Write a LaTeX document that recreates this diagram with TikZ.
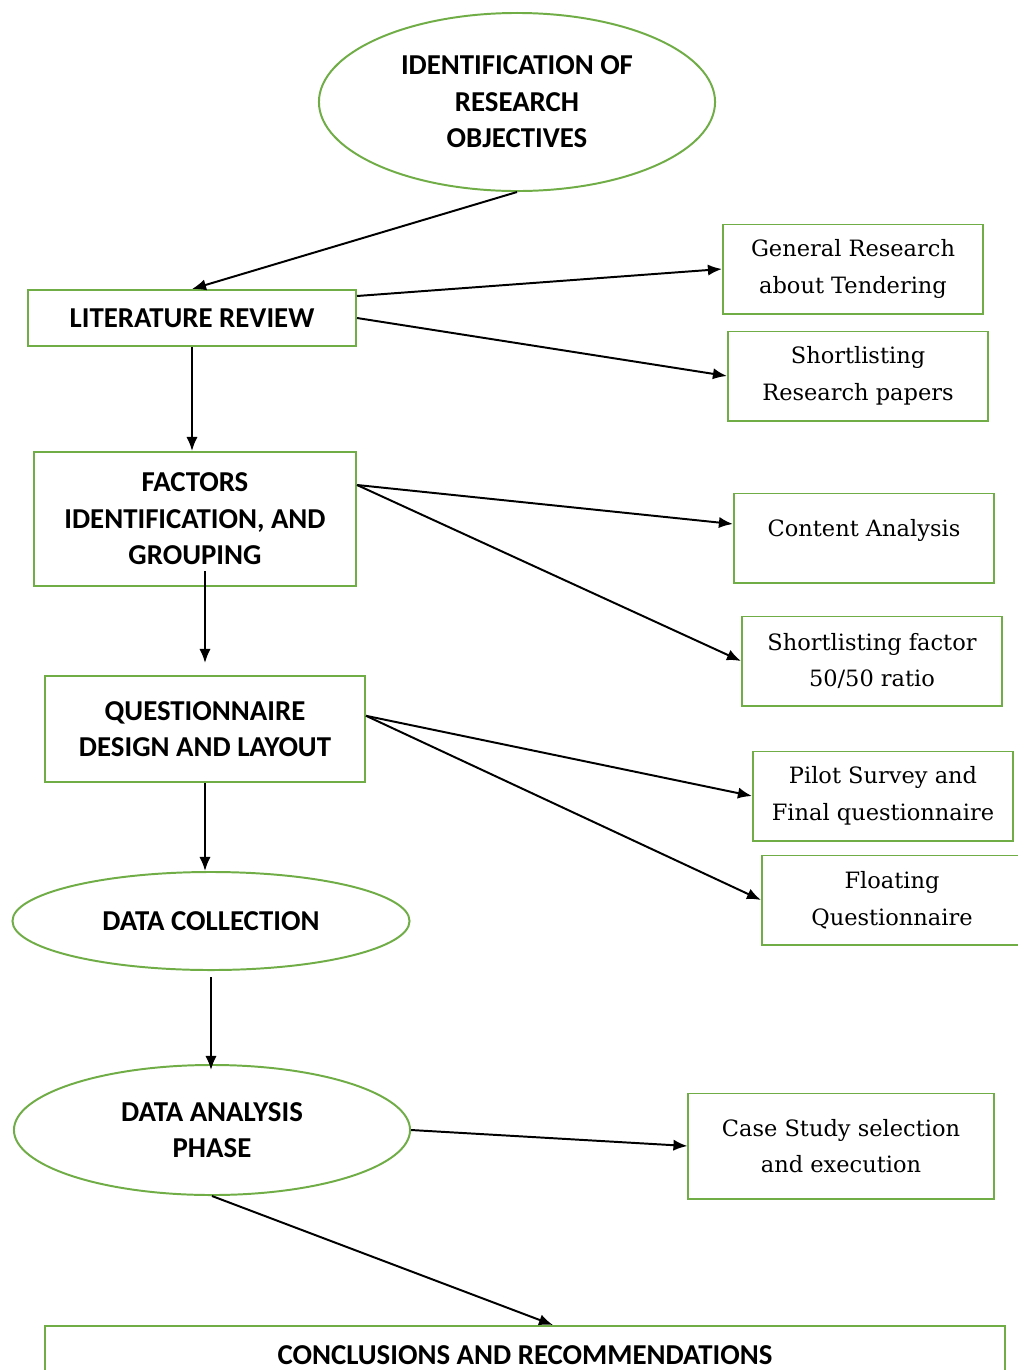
\documentclass[tikz,border=0pt]{standalone}
\usepackage{fontspec}
\setsansfont{Carlito}
\newfontfamily\boxserif{DejaVu Serif}
\usepackage{tikz}
\usetikzlibrary{positioning, shapes.geometric, arrows.meta}
\definecolor{StageGreen}{RGB}{112, 173, 71}

\begin{document}
\begin{tikzpicture}[
    x=0.025cm, y=-0.025cm,
    stagebox/.style={rectangle, draw=StageGreen, line width=1.4pt, fill=white, align=center, inner sep=0pt, font=\sffamily\bfseries\fontsize{20.5}{26}\selectfont},
    stageoval/.style={ellipse, draw=StageGreen, line width=1.4pt, fill=white, align=center, inner sep=0pt, font=\sffamily\bfseries\fontsize{20.5}{26}\selectfont},
    notebox/.style={rectangle, draw=StageGreen, line width=1.4pt, fill=white, align=center, inner sep=0pt, minimum width=6.5cm, minimum height=2.225cm, font=\boxserif\fontsize{16}{26}\selectfont},
    arrowline/.style={-{Latex[length=10pt, width=8pt]}, line width=1.4pt, black}
]
    \useasboundingbox (0,0) rectangle (1018,1370);

    % Main stages
    \node (objectives) [stageoval, minimum width=9.9cm, minimum height=4.45cm] at (517,102) {IDENTIFICATION OF\\RESEARCH\\OBJECTIVES};
    \node (litreview) [stagebox, minimum width=8.2cm, minimum height=1.4cm] at (192,318) {LITERATURE REVIEW};
    \node (factors) [stagebox, minimum width=8.05cm, minimum height=3.35cm] at (195,519) {FACTORS\\IDENTIFICATION, AND\\GROUPING};
    \node (design) [stagebox, minimum width=8cm, minimum height=2.65cm] at (205,729) {QUESTIONNAIRE\\DESIGN AND LAYOUT};
    \node (collection) [stageoval, minimum width=9.925cm, minimum height=2.45cm] at (211,921) {DATA COLLECTION};
    \node (analysis) [stageoval, minimum width=9.9cm, minimum height=3.25cm] at (212,1130) {DATA ANALYSIS\\PHASE};
    \node (conclusions) [stagebox, minimum width=24cm, minimum height=1.45cm] at (525,1355) {CONCLUSIONS AND RECOMMENDATIONS};

    % Side activities
    \node (tendering) [notebox] at (853,269) {General Research\\about Tendering};
    \node (papers) [notebox] at (858,376) {Shortlisting\\Research papers};
    \node (content) [notebox, text depth=0.5cm] at (864,538) {Content Analysis};
    \node (ratio) [notebox] at (872,661) {Shortlisting factor\\50/50 ratio};
    \node (pilot) [notebox] at (883,796) {Pilot Survey and\\Final questionnaire};
    \node (floating) [notebox] at (892,900) {Floating\\Questionnaire};
    \node (casestudy) [notebox, minimum width=7.625cm, minimum height=2.625cm] at (841,1146) {Case Study selection\\and execution};

    % Connections
    \draw [arrowline] (objectives.south) -- (litreview.north);
    \draw [arrowline] ([yshift=0.55cm]litreview.east) -- (tendering.west);
    \draw [arrowline] (litreview.east) -- (papers.west);
    \draw [arrowline] (litreview.south) -- (litreview.south |- factors.north);

    \draw [arrowline] ([yshift=0.85cm]factors.east) -- ([yshift=0.35cm]content.west);
    \draw [arrowline] ([yshift=0.85cm]factors.east) -- (ratio.west);
    \draw [arrowline] ([xshift=0.25cm, yshift=0.4cm]factors.south) -- ([yshift=0.3cm]design.north);

    \draw [arrowline] ([yshift=0.33cm]design.east) -- (pilot.west);
    \draw [arrowline] ([yshift=0.33cm]design.east) -- (floating.west);
    \draw [arrowline] (design.south) -- (design.south |- collection.north);

    \draw [arrowline] ([yshift=-0.15cm]collection.south) -- ([yshift=-0.15cm]collection.south |- analysis.north);
    \draw [arrowline] (analysis.east) -- (casestudy.west);
    \draw [arrowline] (analysis.south) -- ([xshift=0.7cm]conclusions.north);

\end{tikzpicture}
\end{document}
